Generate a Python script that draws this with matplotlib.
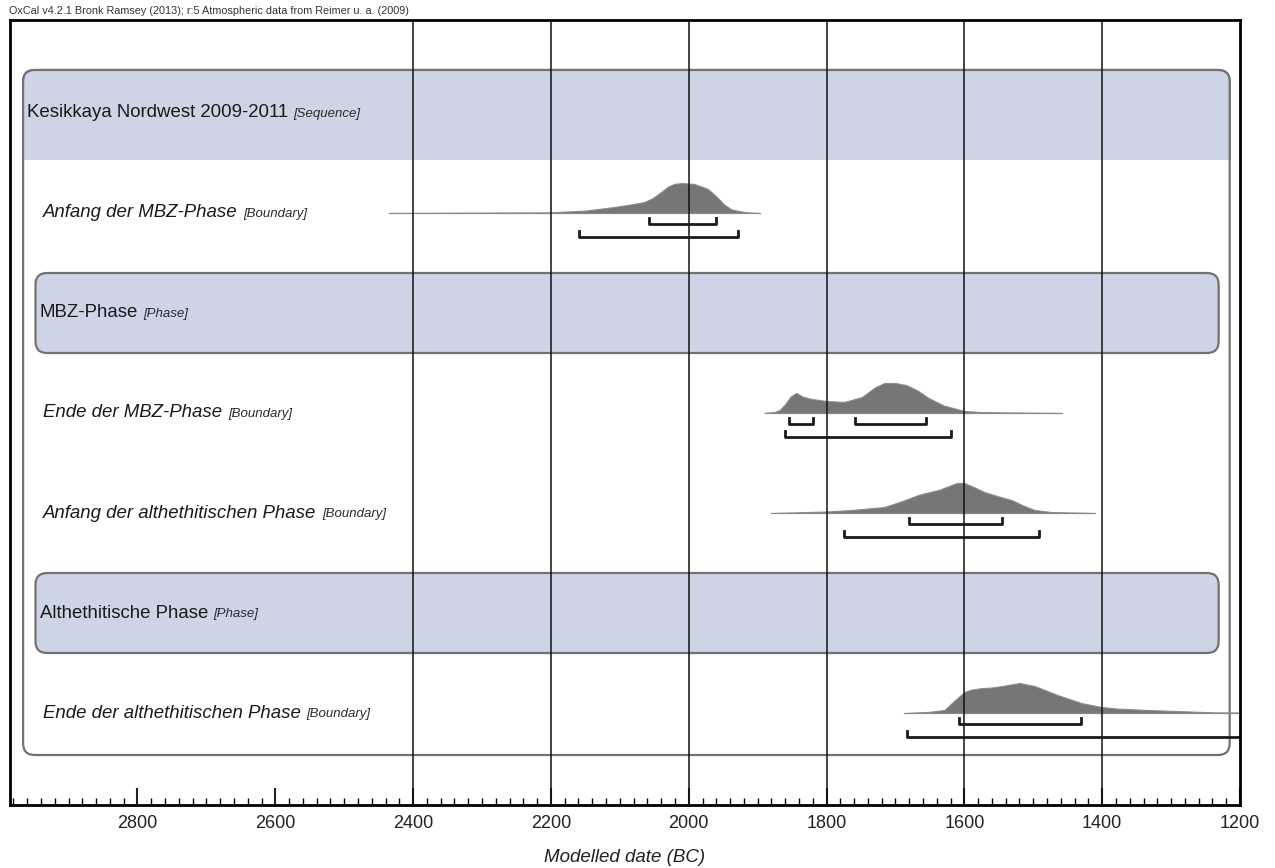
import numpy as np
import matplotlib.pyplot as plt
from matplotlib.patches import FancyBboxPatch, Rectangle

plt.rcParams['font.family'] = ['Liberation Sans', 'DejaVu Sans']

# rows of the model, top to bottom
row_names = ['Kesikkaya Nordwest 2009-2011', 'Anfang der MBZ-Phase', 'MBZ-Phase',
             'Ende der MBZ-Phase', 'Anfang der althethitischen Phase',
             'Althethitische Phase', 'Ende der althethitischen Phase']
row_kinds = ['Sequence', 'Boundary', 'Phase', 'Boundary', 'Boundary', 'Phase', 'Boundary']

# posterior densities: years BC and relative probability
anfang_mbz_yr = [2435, 2204, 2150, 2108, 2080, 2064, 2052, 2040, 2030, 2021, 2010, 1992,
                 1972, 1960, 1948, 1938, 1928, 1915, 1897]
anfang_mbz_p = [0, 0.02, 0.08, 0.2, 0.3, 0.37, 0.5, 0.7, 0.88, 0.97, 1.0, 0.97,
                0.8, 0.55, 0.27, 0.12, 0.07, 0.02, 0]
ende_mbz_yr = [1890, 1876, 1868, 1861, 1852, 1844, 1835, 1822, 1800, 1774, 1749, 1730,
               1716, 1700, 1684, 1668, 1652, 1630, 1601, 1575, 1546, 1459]
ende_mbz_p = [0, 0.03, 0.1, 0.27, 0.55, 0.67, 0.55, 0.47, 0.4, 0.37, 0.53, 0.85,
              1.0, 1.0, 0.93, 0.75, 0.5, 0.25, 0.07, 0.03, 0.02, 0]
anfang_alt_yr = [1880, 1800, 1764, 1716, 1690, 1667, 1650, 1637, 1611, 1600, 1585, 1571,
                 1550, 1531, 1515, 1498, 1473, 1411]
anfang_alt_p = [0, 0.05, 0.1, 0.2, 0.4, 0.6, 0.7, 0.77, 1.0, 1.0, 0.85, 0.7,
                0.55, 0.43, 0.25, 0.1, 0.03, 0]
ende_alt_yr = [1687, 1650, 1629, 1615, 1600, 1590, 1575, 1560, 1545, 1520, 1498, 1465,
               1430, 1401, 1380, 1333, 1237, 1150]
ende_alt_p = [0, 0.04, 0.1, 0.4, 0.7, 0.78, 0.83, 0.85, 0.9, 1.0, 0.9, 0.6,
              0.33, 0.2, 0.15, 0.1, 0.02, 0.01]

# highest posterior density ranges (68.2% and 95.4%)
anfang_mbz_68 = [(2057, 1960)]
anfang_mbz_95 = [(2159, 1928)]
ende_mbz_68 = [(1854, 1819), (1759, 1655)]
ende_mbz_95 = [(1861, 1619)]
anfang_alt_68 = [(1681, 1545)]
anfang_alt_95 = [(1774, 1491)]
ende_alt_68 = [(1608, 1431)]
ende_alt_95 = [(1683, 1150)]

boundaries = {
    1: (anfang_mbz_yr, anfang_mbz_p, anfang_mbz_68, anfang_mbz_95),
    3: (ende_mbz_yr, ende_mbz_p, ende_mbz_68, ende_mbz_95),
    4: (anfang_alt_yr, anfang_alt_p, anfang_alt_68, anfang_alt_95),
    6: (ende_alt_yr, ende_alt_p, ende_alt_68, ende_alt_95),
}

grid_years = [2400, 2200, 2000, 1800, 1600, 1400]

fig = plt.figure(figsize=(12.75, 8.68), dpi=100)
ax = fig.add_axes([10 / 1275, 63 / 868, 1230 / 1275, 785 / 868])
x_left, x_right = 2985, 1200
y_top, y_bot = -0.93, 6.92
ax.set_xlim(x_left, x_right)
ax.set_ylim(y_bot, y_top)

blue = '#cdd4e6'
edge = '#727272'
asp = 0.00998 / 1.4524  # rows per pixel / years per pixel

# sequence frame with shaded header
outer = FancyBboxPatch((1215, -0.43), 1751, 6.85, boxstyle='round,pad=0,rounding_size=17',
                       mutation_aspect=asp, fc='white', ec=edge, lw=1.6, zorder=1)
ax.add_patch(outer)
header = FancyBboxPatch((1215, -0.43), 1751, 2.0, boxstyle='round,pad=0,rounding_size=17',
                        mutation_aspect=asp, fc=blue, ec=edge, lw=1.6, zorder=1.5)
ax.add_patch(header)
clip = Rectangle((1100, -1), 2000, 1.47, transform=ax.transData)
header.set_clip_path(clip)

for i, (name, kind) in enumerate(zip(row_names, row_kinds)):
    if kind == 'Phase':
        ax.add_patch(FancyBboxPatch((1231, i - 0.4), 1717, 0.8,
                                    boxstyle='round,pad=0,rounding_size=17',
                                    mutation_aspect=asp, fc=blue, ec=edge, lw=1.6, zorder=2))
    if kind == 'Sequence':
        t = ax.text(2961, i, name, fontsize=13.4, va='center', color='#1a1a1a', zorder=6)
    elif kind == 'Phase':
        t = ax.text(2942, i, name, fontsize=13.4, va='center', color='#1a1a1a', zorder=6)
    else:
        t = ax.text(2937, i, name, fontsize=13.4, style='italic', va='center',
                    color='#1a1a1a', zorder=6)
    ax.annotate('[' + kind + ']', xy=(1, 0.45), xycoords=t, xytext=(4, 0),
                textcoords='offset points', fontsize=9.5, style='italic',
                va='center', color='#2a2a2a', zorder=6)

# boundary densities and their ranges
for row, (yr, p, r68, r95) in boundaries.items():
    yr = np.array(yr)
    p = np.array(p)
    ax.fill_between(yr, row, row - 0.30 * p, color='#767676', lw=0.8, ec='#8a8a8a', zorder=3)
    ax.plot([yr[0], yr[-1]], [row, row], color='#8a8a8a', lw=0.8, zorder=3)
    for ranges, off in ((r68, 0.11), (r95, 0.24)):
        for a, b in ranges:
            ax.plot([a, a, b, b], [row + off - 0.06, row + off, row + off, row + off - 0.06],
                    color='#1a1a1a', lw=2, zorder=5)

ax.vlines(grid_years, y_bot, y_top, color='#111111', lw=1.1, zorder=4)

ax.set_xticks(range(2800, 1199, -200))
ax.set_xticks(range(1200, 2985, 20), minor=True)
ax.set_yticks([])
ax.tick_params(axis='x', which='major', direction='in', length=12, width=1.5,
               labelsize=13, pad=7, colors='#222222')
ax.tick_params(axis='x', which='minor', direction='in', length=5, width=1)
for s in ax.spines.values():
    s.set_linewidth(2)
    s.set_zorder(7)

fig.text(625 / 1275, 1 - 858 / 868, 'Modelled date (BC)', ha='center', va='center',
         fontsize=13.5, style='italic', color='#222222')
fig.text(9 / 1275, 1 - 11 / 868,
         'OxCal v4.2.1 Bronk Ramsey (2013); r:5 Atmospheric data from Reimer u. a. (2009)',
         fontsize=7.8, va='center', color='#333333')

fig.savefig('out.png', dpi=100)
